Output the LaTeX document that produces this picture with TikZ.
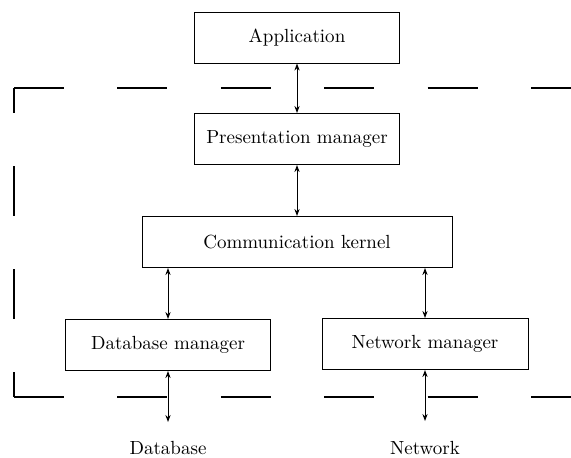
\documentclass[tikz,border=0pt]{standalone}
\usetikzlibrary{arrows.meta}
\begin{document}
\begin{tikzpicture}[x=0.5pt,y=-0.5pt]
    \tikzstyle{block}=[rectangle,draw,line width=0.5pt,minimum height=25.5pt,inner sep=0pt,font=\fontsize{9.5}{11}\selectfont]
    \tikzstyle{link}=[line width=0.5pt,{Stealth[length=3.5pt,width=2.6pt]}-{Stealth[length=3.5pt,width=2.6pt]}]
    \tikzstyle{border}=[line width=0.7pt,dash pattern=on 25pt off 26.7pt]
    \useasboundingbox (0,0) rectangle (571,457);

    \node[block,minimum width=102.5pt] (app)  at (297,37.5) {Application};
    \node[block,minimum width=102.5pt] (pres) at (297,139) {Presentation manager};
    \node[block,minimum width=155pt]   (comm) at (297,242) {Communication kernel};
    \node[block,minimum width=102.5pt] (dbm)  at (168,345) {Database manager};
    \node[block,minimum width=103pt]   (netm) at (425,344) {Network manager};

    \node[font=\fontsize{9.5}{11}\selectfont,anchor=base,inner sep=0pt] (db)  at (168,454) {Database};
    \node[font=\fontsize{9.5}{11}\selectfont,anchor=base,inner sep=0pt] (net) at (425,454) {Network};
    \coordinate (dbend)  at (168,422);
    \coordinate (netend) at (425,421);

    % system boundary, open to the right
    \draw[border] (14,88) -- (571,88);
    \draw[border] (14,397) -- (571,397);
    \draw[line width=0.7pt,dash pattern=on 25pt off 26.5pt,dash phase=12.5pt] (14,88) -- (14,397);

    \draw[link] (app.south) -- (pres.north);
    \draw[link] (pres.south) -- (comm.north);
    \draw[link] (comm.south -| dbm.north) -- (dbm.north);
    \draw[link] (comm.south -| netm.north) -- (netm.north);
    \draw[link] (dbm.south) -- (dbend);
    \draw[link] (netm.south) -- (netend);

\end{tikzpicture}
\end{document}
